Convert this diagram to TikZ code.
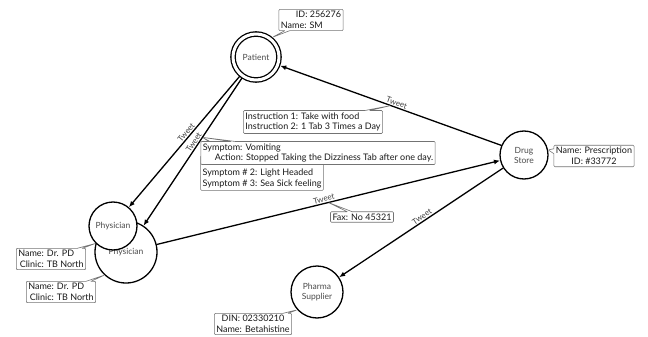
\documentclass[tikz,border=0pt]{standalone}
\usepackage{fontspec}
\setmainfont{Lato}
\usetikzlibrary{shapes.callouts, arrows.meta}

\begin{document}
\begin{tikzpicture}[x=1pt, y=-1pt, line cap=round, line join=round,
    entity/.style={circle, draw=black, line width=1.3pt, fill=white, text=black!70, align=center, inner sep=0pt, font=\fontsize{8.5}{10}\selectfont},
    note/.style={rectangle callout, callout pointer width=5pt, rounded corners=1pt, draw=black!55, line width=0.6pt, fill=white, text=black!90, align=left, inner sep=2pt, font=\fontsize{9}{10.8}\selectfont},
    tweet/.style={sloped, above, inner sep=1pt, text=black!75, font=\fontsize{8}{8.5}\selectfont},
    link/.style={-{Latex[length=6pt, width=5pt]}, line width=1.3pt}]
  \useasboundingbox (0, 0) rectangle (648, 337);
  % Actors
  \node [entity, double, double distance=3pt, minimum size=46pt, outer sep=2.8pt] (patient) at (256, 57) {Patient};
  \node [entity, minimum size=62pt] (physician-2) at (126, 252) {Physician};
  \node [entity, minimum size=48pt] (physician-1) at (113, 226) {Physician};
  \node [entity, minimum size=48pt] (drug) at (524, 155) {Drug\\Store};
  \node [entity, minimum size=52pt] (pharma) at (317, 292) {Pharma\\Supplier};
  % Tweets
  \draw [link] (drug.157) -- (patient) node [tweet, pos=0.48] {Tweet} coordinate [pos=0.5] (instr-tip);
  \foreach \x in {1, 2}
    \draw [link] (patient) -- (physician-\x) node [tweet, pos=0.45] {Tweet} coordinate [pos=0.4] (symptom-tip-\x);
  \draw [link] (physician-2) -- (drug.193) node [tweet, pos=0.49] {Tweet} coordinate [pos=0.5] (fax-tip);
  \draw [link] (drug.212) -- (pharma) node [tweet, pos=0.48] {Tweet};
  % Notes
  \node [note, callout absolute pointer={(patient.50)}] (patient-note) at (311, 20) {\hspace*{15pt}ID: 256276\\Name: SM};
  \node [note, callout absolute pointer={(instr-tip)}] (instr-note) at (313, 122) {Instruction 1: Take with food\\Instruction 2: 1 Tab 3 Times a Day};
  \node [note, callout absolute pointer={(symptom-tip-2)}] (symptom-note-2) at (262, 173) {\strut\\Symptom \# 2: Light Headed\\Symptom \# 3: Sea Sick feeling};
  \node [note, callout absolute pointer={(symptom-tip-2)}] (symptom-note-1) at (318, 153) {Symptom: Vomiting\\\hspace*{12pt}Action: Stopped Taking the Dizziness Tab after one day.};
  \node [note, callout absolute pointer={(fax-tip)}] (fax-note) at (362, 217) {Fax: No 45321};
  \node [note, align=center, callout absolute pointer={(drug.12)}] (drug-note) at (594, 156) {Name: Prescription\\ID: \#33772};
  \node [note, callout absolute pointer={(physician-1.225)}] (physician-note-1) at (51, 259) {Name: Dr. PD\\\,Clinic: TB North};
  \node [note, callout absolute pointer={(physician-2.227)}] (physician-note-2) at (61, 292) {Name: Dr. PD\\\,Clinic: TB North};
  \node [note, align=center, callout absolute pointer={(pharma.222)}] (pharma-note) at (253, 324) {DIN: 02330210\\Name: Betahistine};
\end{tikzpicture}
\end{document}
